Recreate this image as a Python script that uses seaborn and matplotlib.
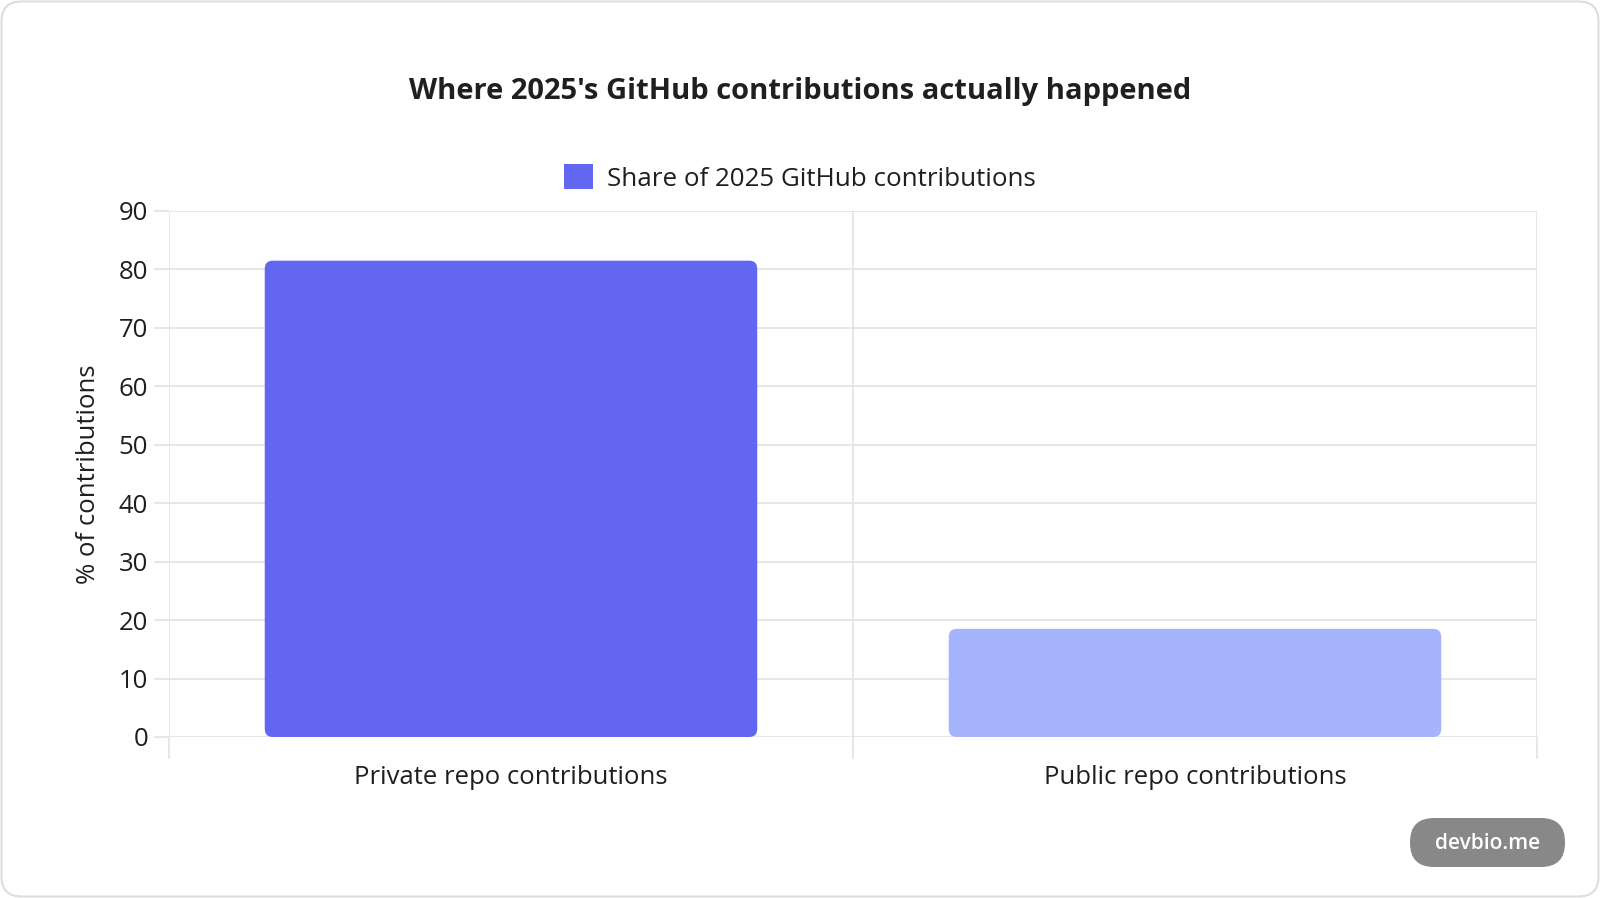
import matplotlib
matplotlib.use("Agg")
import matplotlib.pyplot as plt
from matplotlib.patches import FancyBboxPatch, Patch
import pandas as pd
import seaborn as sns

# data
categories = ["Private repo contributions", "Public repo contributions"]
shares = [81.5, 18.5]
bar_colors = ["#6366F1", "#A5B4FC"]
series_label = "Share of 2025 GitHub contributions"
title = "Where 2025's GitHub contributions actually happened"
y_label = "% of contributions"
y_ticks = list(range(0, 91, 10))

W, H, DPI = 1600, 898, 100
GRID = "#e3e3e3"
TEXT = "#1f1f1f"

sns.set_theme(style="white")
plt.rcParams["font.family"] = ["Open Sans", "DejaVu Sans"]

df = pd.DataFrame({"category": categories, "share": shares})

fig = plt.figure(figsize=(W / DPI, H / DPI), dpi=DPI)
ax = fig.add_axes([169 / W, 1 - 737 / H, (1537 - 169) / W, (737 - 211) / H])

sns.barplot(data=df, x="category", y="share", hue="category",
            palette=bar_colors, width=0.72, legend=False, ax=ax,
            zorder=3, saturation=1)

ax.set_xlim(-0.5, len(categories) - 0.5)
ax.set_ylim(0, 90)

# swap the square bars for rounded ones
bbox = ax.get_window_extent()
dx = (len(categories)) / bbox.width
dy = 90 / bbox.height
r_px = 8
for p in list(ax.patches):
    x, y = p.get_x(), p.get_y()
    w, h = p.get_width(), p.get_height()
    fc = p.get_facecolor()
    p.remove()
    ax.add_patch(FancyBboxPatch((x, y), w, h,
                                boxstyle=f"round,pad=0,rounding_size={r_px * dx}",
                                mutation_aspect=dy / dx,
                                facecolor=fc, edgecolor="none", zorder=3))

# grid like the original: horizontal lines + category boundaries
ax.set_yticks(y_ticks)
ax.set_yticklabels([str(t) for t in y_ticks], fontsize=18.5, color=TEXT)
ax.set_xticks(range(len(categories)))
ax.set_xticklabels(categories, fontsize=18.5, color=TEXT)
ax.set_xticks([i - 0.5 for i in range(len(categories) + 1)], minor=True)
ax.grid(axis="y", which="major", color=GRID, lw=1.2, zorder=0)
ax.grid(axis="x", which="minor", color=GRID, lw=1.2, zorder=0)
ax.tick_params(axis="y", length=11, width=1.2, color=GRID, pad=4, left=True)
ax.tick_params(axis="x", which="major", length=0, pad=20)
ax.tick_params(axis="x", which="minor", length=16, width=1.2, color=GRID, bottom=True)
for s in ax.spines.values():
    s.set_visible(False)

ax.set_xlabel("")
ax.set_ylabel(y_label, fontsize=18.5, color=TEXT, labelpad=13)

fig.text(0.5, 1 - 91 / H, title, ha="center", va="center",
         fontsize=21, fontweight="bold", color=TEXT)

handle = Patch(facecolor=bar_colors[0], edgecolor="none")
fig.legend([handle], [series_label], loc="center", bbox_to_anchor=(0.5, 1 - 178 / H),
           frameon=False, fontsize=18.7, handlelength=1.1, handleheight=1.1,
           handletextpad=0.55, labelcolor=TEXT)

# card outline
fig.patches.append(FancyBboxPatch((1.5 / W, 1.5 / H), (W - 3) / W, (H - 3) / H,
                                  boxstyle=f"round,pad=0,rounding_size={20 / W}",
                                  mutation_aspect=W / H, transform=fig.transFigure,
                                  facecolor="none", edgecolor="#dddddd", lw=1.5))

# watermark pill
px0, py0, pw, ph = 1410, 818, 155, 49
fig.patches.append(FancyBboxPatch((px0 / W, 1 - (py0 + ph) / H), pw / W, ph / H,
                                  boxstyle=f"round,pad=0,rounding_size={24 / W}",
                                  mutation_aspect=W / H, transform=fig.transFigure,
                                  facecolor="#888888", edgecolor="none"))
fig.text((px0 + pw / 2) / W, 1 - (py0 + ph / 2 + 1) / H, "devbio.me", ha="center",
         va="center", fontsize=15, fontweight="semibold", color="white")

fig.savefig("out.png", dpi=DPI, facecolor="white")
